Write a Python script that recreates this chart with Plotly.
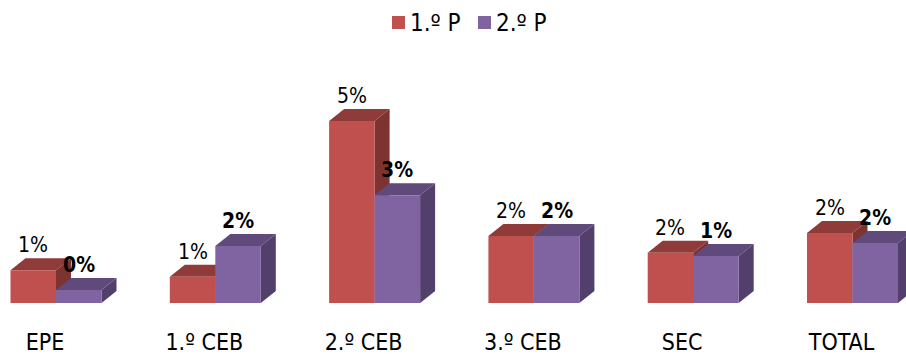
import plotly.graph_objects as go

categories = ["EPE", "1.º CEB", "2.º CEB", "3.º CEB", "SEC", "TOTAL"]
series_names = ["1.º P", "2.º P"]
values_p1 = [0.98, 0.78, 5.43, 2.0, 1.5, 2.09]
values_p2 = [0.39, 1.70, 3.22, 2.0, 1.4, 1.79]

W, H, BASE = 906, 354, 303
PX_PER_CAT = 159.3
PX_PER_PCT = 33.5
DX = 15 / PX_PER_CAT
DY = 12 / PX_PER_PCT
BAR_W = 45.5 / PX_PER_CAT
FONT = "DejaVu Sans Condensed, DejaVu Sans"
TXT = "#000000"

styles = [
    dict(front="#C0504D", top="#8E3B39", side="#7D3330", sign=-1, weight="normal", size=21, legend_x=392),
    dict(front="#8064A2", top="#604A7B", side="#533F6B", sign=1, weight="bold", size=21, legend_x=478),
]

fig = go.Figure()
shapes, annotations = [], []
xs = list(range(len(categories)))

for name, vals, st in zip(series_names, [values_p1, values_p2], styles):
    fig.add_trace(go.Bar(
        name=name, x=xs, y=vals, width=BAR_W,
        offset=[(-BAR_W if st["sign"] < 0 else 0)] * len(xs),
        marker=dict(color=st["front"], line=dict(width=0)),
    ))
    for i, v in zip(xs, vals):
        x0 = i - BAR_W if st["sign"] < 0 else i
        x1 = x0 + BAR_W
        shapes.append(dict(
            type="path", layer="below", xref="x", yref="y", line=dict(width=0),
            fillcolor=st["side"],
            path=f"M{x1},0 L{x1+DX},{DY} L{x1+DX},{v+DY} L{x1},{v} Z",
        ))
        shapes.append(dict(
            type="path", layer="below", xref="x", yref="y", line=dict(width=0),
            fillcolor=st["top"],
            path=f"M{x0},{v} L{x0+DX},{v+DY} L{x1+DX},{v+DY} L{x1},{v} Z",
        ))
        annotations.append(dict(
            x=(x0 + x1) / 2, y=v, xref="x", yref="y", yanchor="bottom", yshift=11,
            text=f"{round(v)}%", showarrow=False,
            font=dict(family=FONT, size=st["size"], color=TXT, weight=st["weight"]),
        ))
    # legend entry: swatch sits tight against its label, as in the reference
    lx = st["legend_x"]
    shapes.append(dict(
        type="rect", xref="paper", yref="paper", line=dict(width=0), fillcolor=st["front"],
        x0=lx / W, x1=(lx + 13) / W, y0=(BASE - 29) / BASE, y1=(BASE - 16) / BASE,
    ))
    annotations.append(dict(
        x=(lx + 16) / W, y=(BASE - 23) / BASE, xref="paper", yref="paper",
        xanchor="left", yanchor="middle", text=name, showarrow=False,
        font=dict(family=FONT, size=24, color=TXT),
    ))

fig.update_layout(
    width=W, height=H, autosize=False,
    paper_bgcolor="white", plot_bgcolor="white",
    margin=dict(l=0, r=0, t=0, b=H - BASE, autoexpand=False),
    barmode="overlay",
    shapes=shapes, annotations=annotations,
    showlegend=False,
    xaxis=dict(range=[-56 / PX_PER_CAT, (W - 56) / PX_PER_CAT],
               tickvals=[i - 11 / PX_PER_CAT for i in xs], ticktext=categories,
               ticks="outside", ticklen=18, tickcolor="rgba(0,0,0,0)", showline=False,
               showgrid=False, zeroline=False, automargin=False,
               tickfont=dict(family=FONT, size=23, color=TXT)),
    yaxis=dict(range=[0, BASE / PX_PER_PCT], visible=False, showgrid=False, zeroline=False),
)
fig.write_html("out.html", config=dict(displayModeBar=False),
               post_script="document.documentElement.style.margin='0';document.body.style.margin='0';document.documentElement.style.overflow='hidden';")
